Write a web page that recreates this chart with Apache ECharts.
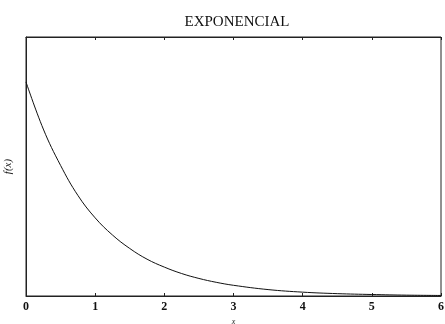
<!DOCTYPE html>
<html><head><meta charset="utf-8">
<script src="https://cdn.jsdelivr.net/npm/echarts@6/dist/echarts.min.js"></script>
<style>html,body{margin:0;padding:0;background:#fff}#c{width:445px;height:324px}</style>
</head><body><div id="c"></div>
<script>
var xValues = [0, 0.25, 0.5, 0.75, 1, 1.25, 1.5, 1.75, 2, 2.25, 2.5, 2.75, 3, 3.5, 4, 4.5, 5, 5.5, 6];
var fValues = [1.00, 0.78, 0.61, 0.47, 0.365, 0.285, 0.222, 0.172, 0.135, 0.105, 0.082, 0.064, 0.05, 0.03, 0.018, 0.011, 0.007, 0.004, 0.0025];
var xTicks = [0, 1, 2, 3, 4, 5, 6];
var titleText = 'EXPONENCIAL';
var xName = 'x';
var yName = 'f(x)';

var pts = xValues.map(function (x, i) { return [x, fValues[i]]; });
var chart = echarts.init(document.getElementById('c'), null, {renderer: 'canvas'});
var serif = '"Liberation Serif", "DejaVu Serif", serif';
chart.setOption({
  animation: false,
  backgroundColor: '#fff',
  title: {
    text: titleText, left: 232, top: 10, textAlign: 'center',
    textStyle: {fontFamily: serif, fontSize: 15, fontWeight: 'normal', color: '#111'}
  },
  grid: {left: 26, right: 4, top: 37, bottom: 28, outerBoundsMode: 'none', containLabel: false,
    show: true, borderColor: '#222', borderWidth: 1, backgroundColor: 'transparent'},
  xAxis: [{
    type: 'value', min: xTicks[0], max: xTicks[xTicks.length - 1], interval: 1,
    position: 'bottom',
    name: xName, nameLocation: 'middle', nameGap: 20,
    nameTextStyle: {fontFamily: serif, fontStyle: 'italic', fontSize: 8, color: '#222'},
    axisLine: {show: true, lineStyle: {color: '#222', width: 1}},
    axisTick: {show: true, inside: true, length: 3, lineStyle: {color: '#222'}},
    axisLabel: {show: true, margin: 5, fontFamily: serif, fontWeight: 'bold', fontSize: 12, color: '#111',
      formatter: function (v) { return String(v); }},
    splitLine: {show: false}
  }, {
    type: 'value', min: xTicks[0], max: xTicks[xTicks.length - 1], interval: 1,
    position: 'top',
    axisLine: {show: true, lineStyle: {color: '#222', width: 1}},
    axisTick: {show: true, inside: true, length: 3, lineStyle: {color: '#222'}},
    axisLabel: {show: false},
    splitLine: {show: false}
  }],
  yAxis: {
    type: 'value', min: 0, max: 1.21,
    name: yName, nameLocation: 'middle', nameGap: 12, nameRotate: 90,
    nameTextStyle: {fontFamily: serif, fontStyle: 'italic', fontSize: 11, color: '#222'},
    axisLine: {show: true, lineStyle: {color: '#222', width: 1}},
    axisTick: {show: false},
    axisLabel: {show: false},
    splitLine: {show: false}
  },
  series: [{
    type: 'line', data: pts, smooth: 0.4, showSymbol: false, symbol: 'none',
    lineStyle: {color: '#111', width: 1}
  }]
});
</script></body></html>
